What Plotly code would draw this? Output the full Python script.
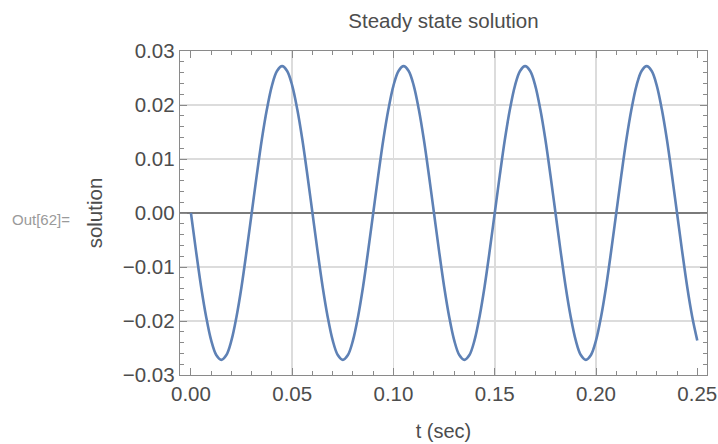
import plotly.graph_objects as go

# Time samples (sec)
t_sec = [0.0000, 0.0025, 0.0050, 0.0075, 0.0100, 0.0125, 0.0150, 0.0175, 0.0200, 0.0225,
         0.0250, 0.0275, 0.0300, 0.0325, 0.0350, 0.0375, 0.0400, 0.0425, 0.0450, 0.0475,
         0.0500, 0.0525, 0.0550, 0.0575, 0.0600, 0.0625, 0.0650, 0.0675, 0.0700, 0.0725,
         0.0750, 0.0775, 0.0800, 0.0825, 0.0850, 0.0875, 0.0900, 0.0925, 0.0950, 0.0975,
         0.1000, 0.1025, 0.1050, 0.1075, 0.1100, 0.1125, 0.1150, 0.1175, 0.1200, 0.1225,
         0.1250, 0.1275, 0.1300, 0.1325, 0.1350, 0.1375, 0.1400, 0.1425, 0.1450, 0.1475,
         0.1500, 0.1525, 0.1550, 0.1575, 0.1600, 0.1625, 0.1650, 0.1675, 0.1700, 0.1725,
         0.1750, 0.1775, 0.1800, 0.1825, 0.1850, 0.1875, 0.1900, 0.1925, 0.1950, 0.1975,
         0.2000, 0.2025, 0.2050, 0.2075, 0.2100, 0.2125, 0.2150, 0.2175, 0.2200, 0.2225,
         0.2250, 0.2275, 0.2300, 0.2325, 0.2350, 0.2375, 0.2400, 0.2425, 0.2450, 0.2475,
         0.2500]

# Solution values
solution = [
    0.0, -0.0070, -0.0136, -0.0192, -0.0236, -0.0263, -0.0272, -0.0263, -0.0236, -0.0192, -0.0136, -0.0070,
    0.0, 0.0070, 0.0136, 0.0192, 0.0236, 0.0263, 0.0272, 0.0263, 0.0236, 0.0192, 0.0136, 0.0070,
    0.0, -0.0070, -0.0136, -0.0192, -0.0236, -0.0263, -0.0272, -0.0263, -0.0236, -0.0192, -0.0136, -0.0070,
    0.0, 0.0070, 0.0136, 0.0192, 0.0236, 0.0263, 0.0272, 0.0263, 0.0236, 0.0192, 0.0136, 0.0070,
    0.0, -0.0070, -0.0136, -0.0192, -0.0236, -0.0263, -0.0272, -0.0263, -0.0236, -0.0192, -0.0136, -0.0070,
    0.0, 0.0070, 0.0136, 0.0192, 0.0236, 0.0263, 0.0272, 0.0263, 0.0236, 0.0192, 0.0136, 0.0070,
    0.0, -0.0070, -0.0136, -0.0192, -0.0236, -0.0263, -0.0272, -0.0263, -0.0236, -0.0192, -0.0136, -0.0070,
    0.0, 0.0070, 0.0136, 0.0192, 0.0236, 0.0263, 0.0272, 0.0263, 0.0236, 0.0192, 0.0136, 0.0070,
    0.0, -0.0070, -0.0136, -0.0192, -0.0236,
]

x_ticks = [0.0, 0.05, 0.10, 0.15, 0.20, 0.25]
x_tick_labels = ["0.00", "0.05", "0.10", "0.15", "0.20", "0.25"]
x_grid = [0.05, 0.10, 0.15, 0.20]
y_ticks = [-0.03, -0.02, -0.01, 0.0, 0.01, 0.02, 0.03]
y_tick_labels = ["\u22120.03", "\u22120.02", "\u22120.01", "0.00", "0.01", "0.02", "0.03"]

FONT = "Liberation Sans, Arial, sans-serif"
frame_col = "#8a8a8a"
text_col = "#4d4d4d"
grid_col = "#dcdcdc"
x_range = [-0.0054, 0.2548]
y_range = [-0.03, 0.03]

W, H = 718, 444
L, R, T, B = 180, 11, 51, 69
PW, PH = W - L - R, H - T - B

fig = go.Figure()
# invisible carrier trace on the main (frame/tick/label) axes
fig.add_trace(go.Scatter(
    x=[x_range[0]], y=[0], xaxis="x", yaxis="y", mode="markers",
    marker=dict(opacity=0), showlegend=False, hoverinfo="skip",
))
# the curve sits on the overlay axes, above their grid and zero line
fig.add_trace(go.Scatter(
    x=t_sec, y=solution, mode="lines", xaxis="x2", yaxis="y2",
    line=dict(color="#5E81B5", width=2.6, shape="spline", smoothing=1.0),
    showlegend=False, hoverinfo="skip",
))

fig.update_layout(
    width=W, height=H,
    margin=dict(l=L, r=R, t=T, b=B, autoexpand=False),
    paper_bgcolor="white", plot_bgcolor="white",
    font=dict(family=FONT, color=text_col, size=20),
    title=dict(text="Steady state solution", x=0.5, xref="paper",
               y=1 - 21 / H, yref="container", yanchor="middle",
               font=dict(size=20.5, color=text_col, family=FONT)),
    xaxis=dict(
        range=x_range, tickvals=x_ticks, ticktext=x_tick_labels,
        showline=True, linecolor=frame_col, linewidth=1.3, mirror="allticks",
        ticks="inside", ticklen=7, tickcolor=frame_col, tickwidth=1,
        minor=dict(dtick=0.01, tick0=0, ticks="inside", ticklen=4,
                   tickcolor=frame_col, showgrid=False),
        showgrid=False, ticklabeloverflow="allow",
        zeroline=False, tickfont=dict(size=20.5, color=text_col),
        title=dict(text="t (sec)", font=dict(size=20, color=text_col), standoff=20),
    ),
    yaxis=dict(
        range=y_range, tickvals=y_ticks, ticktext=y_tick_labels,
        showline=True, linecolor=frame_col, linewidth=1.3, mirror="allticks",
        ticks="inside", ticklen=7, tickcolor=frame_col, tickwidth=1,
        minor=dict(dtick=0.002, tick0=0, ticks="inside", ticklen=4,
                   tickcolor=frame_col, showgrid=False),
        showgrid=True, gridcolor=grid_col, gridwidth=1.6,
        zeroline=False,
        tickfont=dict(size=20.5, color=text_col),
        title=dict(text="solution", font=dict(size=20.5, color=text_col), standoff=14),
    ),
    xaxis2=dict(
        range=x_range, overlaying="x", side="bottom", tickvals=x_grid,
        showticklabels=False, ticks="", showline=False, zeroline=False,
        showgrid=True, gridcolor=grid_col, gridwidth=1.6,
    ),
    yaxis2=dict(
        range=y_range, overlaying="y", side="left", tickvals=[0.0],
        showticklabels=False, ticks="", showline=False, showgrid=False,
        zeroline=True, zerolinecolor="#7a7a7a", zerolinewidth=1.3,
    ),
    annotations=[dict(
        text="Out[62]=", x=(10 - L) / PW, y=1 - (219 - T) / PH,
        xref="paper", yref="paper",
        showarrow=False, xanchor="left", yanchor="middle",
        font=dict(size=15, color="#9a9a9a", family=FONT),
    )],
)

fig.write_html(
    "out.html",
    config={"displayModeBar": False, "staticPlot": True},
    post_script="document.body.style.margin='0';document.body.style.overflow='hidden';",
)
